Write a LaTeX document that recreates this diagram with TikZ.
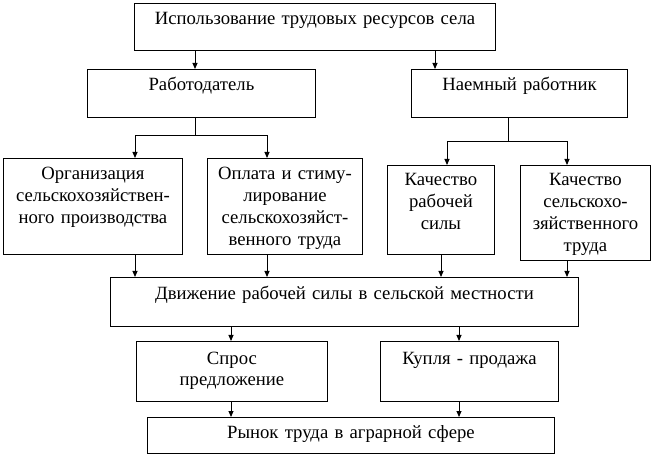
\documentclass[tikz,border=0pt]{standalone}
\usepackage{fontspec}
\setmainfont{Liberation Serif}
\usetikzlibrary{positioning, arrows.meta}

\begin{document}
\begin{tikzpicture}[x=1pt, y=-1pt,
		box/.style  = {draw, rectangle, line width=0.9pt, anchor=north west, inner sep=0pt},
		txt/.style  = {anchor=base, align=center, inner sep=0pt, text width=#1, font=\fontsize{18.7}{21.7}\selectfont},
		txt/.default = 150pt,
		line/.style = {line width=0.9pt},
		>={Triangle[length=6pt, width=5pt]}]
	
	\useasboundingbox (0,0) rectangle (654,457);
	
	% frames of the boxes, by their top left corner
	\node[box, minimum width=361pt, minimum height=47pt] (use)    at (134,3)   {};
	\node[box, minimum width=228pt, minimum height=48pt] (empl)   at (87,69)   {};
	\node[box, minimum width=216pt, minimum height=48pt] (hire)   at (411,69)  {};
	\node[box, minimum width=179pt, minimum height=96pt] (org)    at (3,158)   {};
	\node[box, minimum width=155pt, minimum height=96pt] (pay)    at (207,158) {};
	\node[box, minimum width=107pt, minimum height=89pt] (qlab)   at (387,165) {};
	\node[box, minimum width=130pt, minimum height=95pt] (qwork)  at (520,165) {};
	\node[box, minimum width=468pt, minimum height=49pt] (move)   at (110,277) {};
	\node[box, minimum width=191pt, minimum height=60pt] (dem)    at (136,341) {};
	\node[box, minimum width=178pt, minimum height=60pt] (sale)   at (380,341) {};
	\node[box, minimum width=407pt, minimum height=36pt] (market) at (147,417) {};
	
	% texts, set at the top of each box
	\node[txt=355pt] (use-t)    at ([yshift=-22pt]use.north)    {Использование трудовых ресурсов села};
	\node[txt=220pt] (empl-t)   at ([yshift=-22pt]empl.north)   {Работодатель};
	\node[txt=210pt] (hire-t)   at ([yshift=-22pt]hire.north)   {Наемный работник};
	\node[txt=178pt] (org-t)    at ([yshift=-22pt]org.north)    {Организация\\сельскохозяйствен-\\ного производства};
	\node[txt=154pt] (pay-t)    at ([yshift=-22pt]pay.north)    {Оплата и стиму-\\лирование\\сельскохозяйст-\\венного труда};
	\node[txt=106pt] (qlab-t)   at ([yshift=-21pt]qlab.north)   {Качество\\рабочей\\силы};
	\node[txt=129pt] (qwork-t)  at ([yshift=-21pt]qwork.north)  {Качество\\сельскохо-\\зяйственного\\труда};
	\node[txt=460pt] (move-t)   at ([yshift=-23pt]move.north)   {Движение рабочей силы в сельской местности};
	\node[txt=185pt] (dem-t)    at ([yshift=-23pt]dem.north)    {Спрос\\предложение};
	\node[txt=172pt] (sale-t)   at ([yshift=-23pt]sale.north)   {Купля - продажа};
	\node[txt=400pt] (market-t) at ([yshift=-21pt]market.north) {Рынок труда в аграрной сфере};
	
	% branching lines under the two second level boxes
	\coordinate (fork1) at (195,135);
	\coordinate (fork2) at (508,141);
	\draw[line] (empl.south -| fork1) -- (fork1);
	\draw[line, ->] (fork1) -| (org.north -| 135,0);
	\draw[line, ->] (fork1) -| (pay.north -| 267,0);
	\draw[line] (hire.south -| fork2) -- (fork2);
	\draw[line, ->] (fork2) -| (qlab.north -| 447,0);
	\draw[line, ->] (fork2) -| (qwork.north -| 567,0);
	
	% straight arrows from box to box
	\foreach \x/\a/\b in {195/use/empl, 435/use/hire, 135/org/move, 267/pay/move,
		441/qlab/move, 567/qwork/move, 231/move/dem, 459/move/sale,
		231/dem/market, 459/sale/market}
	\draw[line, ->] (\a.south -| \x,0) -- (\b.north -| \x,0);
\end{tikzpicture}
\end{document}
